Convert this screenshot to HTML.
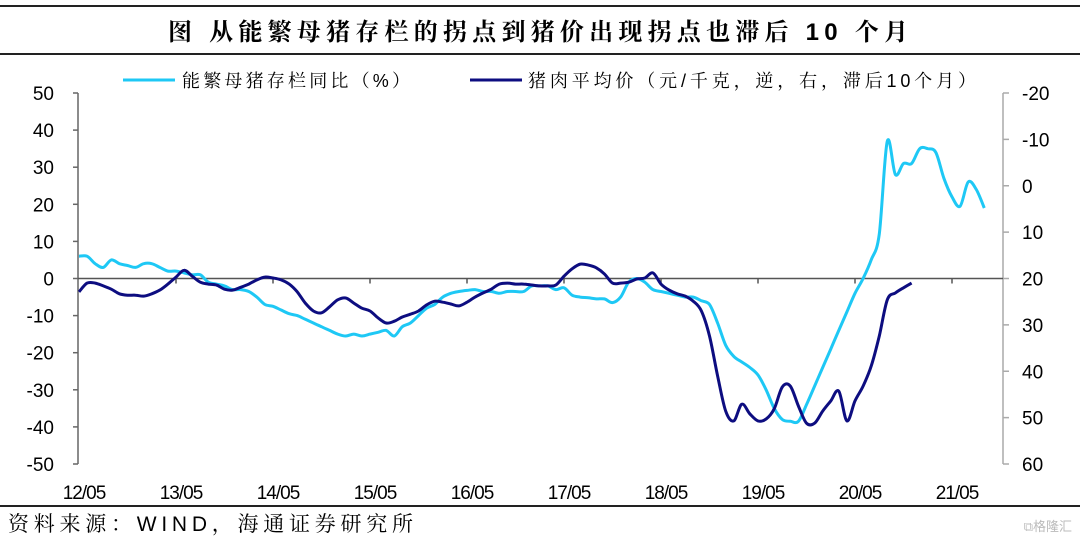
<!DOCTYPE html>
<html><head><meta charset="utf-8">
<style>
body{margin:0;background:#fff;}
svg{display:block;font-family:"Liberation Sans","Noto Sans CJK SC",sans-serif;}
</style></head>
<body>
<svg id="chart" width="1080" height="544" viewBox="0 0 1080 544">
<line x1="0" y1="6" x2="1080" y2="6" stroke="#222" stroke-width="2"/>
<text x="168" y="40" textLength="740" lengthAdjust="spacing" font-size="24" font-weight="bold" font-family="'Liberation Sans','Noto Serif CJK SC',serif">图  从能繁母猪存栏的拐点到猪价出现拐点也滞后 10 个月</text>
<line x1="0" y1="54" x2="1080" y2="54" stroke="#222" stroke-width="2"/>
<g>
<line x1="123" y1="80" x2="175" y2="80" stroke="#1ec8f5" stroke-width="3"/>
<text x="182" y="87" textLength="228" lengthAdjust="spacing" font-size="18" font-family="'Liberation Sans','Noto Serif CJK SC',serif">能繁母猪存栏同比（%）</text>
<line x1="470" y1="80" x2="522" y2="80" stroke="#0d0d80" stroke-width="3"/>
<text x="528" y="87" textLength="448" lengthAdjust="spacing" font-size="18" font-family="'Liberation Sans','Noto Serif CJK SC',serif">猪肉平均价（元/千克，逆，右，滞后10个月）</text>
</g>
<g id="axes"></g>
<g id="series"></g>
<line x1="0" y1="506" x2="1080" y2="506" stroke="#222" stroke-width="2"/>
<text x="8" y="531" textLength="405" lengthAdjust="spacing" font-size="21" font-family="'Liberation Sans','Noto Serif CJK SC',serif">资料来源：WIND，海通证券研究所</text>
<text x="1072" y="531" font-size="13" fill="#bbb" text-anchor="end">⧉格隆汇</text>
</svg>
<script>
const leftTicks=[50,40,30,20,10,0,-10,-20,-30,-40,-50];
const rightTicks=[-20,-10,0,10,20,30,40,50,60];
const xLabels=["12/05","13/05","14/05","15/05","16/05","17/05","18/05","19/05","20/05","21/05"];
const sowYoY=[6,6,4,3,5,4,3.5,3,4,4,3,2,2,1.5,1,1,-1,-1.5,-2,-3,-3,-3.5,-5,-7,-7.5,-8.5,-9.5,-10,-11,-12,-13,-14,-15,-15.5,-15,-15.5,-15,-14.5,-14,-15.5,-13,-12,-10,-8,-7,-5,-4,-3.5,-3.2,-3,-3.5,-3.5,-4,-3.5,-3.5,-3.5,-2,-2,-2,-3,-2.5,-4.5,-5,-5.2,-5.5,-5.5,-6.5,-5,-1,0,-1,-3,-3.5,-4,-4.5,-5,-5,-6,-7,-12,-18,-21,-22.5,-24,-26,-30,-35,-38,-38.5,-38.5,-34,-29,-24,-19,-14,-9,-4,0,5,12,37,28,31,31,35,35,34,27,22,19.5,26,24,19];
const porkPrice=[22.9,21.0,21.0,21.6,22.3,23.3,23.6,23.6,23.8,23.3,22.5,21.2,19.7,18.2,19.5,20.8,21.2,21.4,22.3,22.5,21.9,21.2,20.3,19.7,19.9,20.3,21.2,22.9,25.3,27.0,27.4,26.1,24.6,24.2,25.3,26.4,27.0,28.5,29.6,29.2,28.3,27.7,27.0,25.7,24.9,25.1,25.5,25.9,25.1,24.0,23.1,22.3,21.2,21.0,21.2,21.2,21.4,21.6,21.6,21.4,19.5,17.9,16.9,17.1,17.7,19.0,21.0,21.0,20.8,20.1,19.9,18.8,21.2,22.5,23.3,23.8,24.9,27.0,32.4,41.0,48.6,50.7,47.1,49.2,50.7,50.3,48.1,43.4,43.2,47.5,51.2,51.2,48.6,46.4,44.3,50.7,46.4,43.2,38.9,32.4,24.6,23.1,22.0,21.0];

const NS="http://www.w3.org/2000/svg";
const X0=79,PX_PER_MONTH=97/12,AX_L=78,AX_R=1003,TOP=93,BOT=464;
function xOf(t){return X0+t*PX_PER_MONTH;}
function yL(v){return TOP+(50-v)*(BOT-TOP)/100;}
function yR(v){return TOP+(v+20)*(BOT-TOP)/80;}
function mk(tag,attrs,parent){const e=document.createElementNS(NS,tag);for(const k in attrs)e.setAttribute(k,attrs[k]);parent.appendChild(e);return e;}
const axes=document.getElementById('axes');
const ser=document.getElementById('series');

let e=mk('line',{x1:AX_L,y1:TOP,x2:AX_L,y2:BOT,stroke:'#666','stroke-width':1.5},axes);


e=mk('line',{x1:AX_R,y1:TOP,x2:AX_R,y2:BOT,stroke:'#aaa','stroke-width':1.5},axes);


leftTicks.forEach(v=>{
  const tk=mk('line',{x1:AX_L-5,y1:yL(v),x2:AX_L,y2:yL(v),stroke:'#666','stroke-width':1.5},axes);
  
  
  const t=mk('text',{x:54,y:yL(v)+7,'text-anchor':'end','font-size':19},axes);
  t.textContent=v;
  
  
});
rightTicks.forEach(v=>{
  const tk=mk('line',{x1:AX_R,y1:yR(v),x2:AX_R+6,y2:yR(v),stroke:'#aaa','stroke-width':1.5},axes);
  
  
  const t=mk('text',{x:1022,y:yR(v)+7,'font-size':19},axes);
  t.textContent=v;
  
  
});
e=mk('line',{x1:AX_L,y1:yL(0),x2:AX_R,y2:yL(0),stroke:'#555','stroke-width':1.5},axes);


xLabels.forEach((s,i)=>{
  const x=xOf(i*12);
  if(i>0){const tk=mk('line',{x1:x,y1:yL(0),x2:x,y2:yL(0)+5,stroke:'#555','stroke-width':1.5},axes);
  
  }
  const t=mk('text',{x:x+5,y:499,'text-anchor':'middle','font-size':19,'letter-spacing':'-1'},axes);
  t.textContent=s;
  
  
});
function smooth(pts){
  let d='M'+pts[0][0].toFixed(1)+','+pts[0][1].toFixed(1);
  for(let i=0;i<pts.length-1;i++){
    const p0=pts[Math.max(0,i-1)],p1=pts[i],p2=pts[i+1],p3=pts[Math.min(pts.length-1,i+2)];
    const c1=[p1[0]+(p2[0]-p0[0])/6,p1[1]+(p2[1]-p0[1])/6];
    const c2=[p2[0]-(p3[0]-p1[0])/6,p2[1]-(p3[1]-p1[1])/6];
    d+=' C'+c1[0].toFixed(1)+','+c1[1].toFixed(1)+' '+c2[0].toFixed(1)+','+c2[1].toFixed(1)+' '+p2[0].toFixed(1)+','+p2[1].toFixed(1);
  }
  return d;
}
const sowPath=mk('path',{d:smooth(sowYoY.map((v,i)=>[xOf(i),yL(v)])),fill:'none',stroke:'#1ec8f5','stroke-width':3,'stroke-linejoin':'round'},ser);


const porkPath=mk('path',{d:smooth(porkPrice.map((v,i)=>[xOf(i),yR(v)])),fill:'none',stroke:'#0d0d80','stroke-width':3,'stroke-linejoin':'round'},ser);


</script>
</body></html>
